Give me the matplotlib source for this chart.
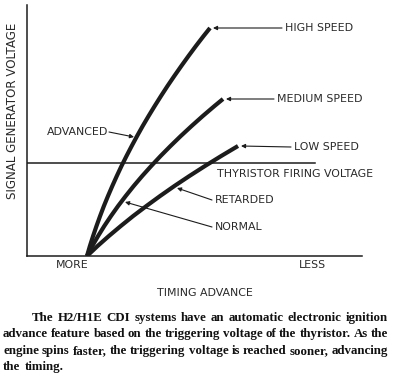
import matplotlib
matplotlib.use('Agg')
import matplotlib.pyplot as plt

# Curves (x = timing position, y = signal voltage, arbitrary units)
high_y = [0, 10, 20, 30, 40, 50, 60, 70, 80, 90, 100, 110, 120, 130, 140, 150,
          160, 170, 180, 190, 200, 210, 220, 228]
high_x = [60, 62.9, 66.1, 69.5, 73.1, 76.9, 81.0, 85.3, 89.8, 94.5, 99.5, 104.7,
          110.1, 115.7, 121.6, 127.7, 134.0, 140.5, 147.3, 154.3, 161.5, 168.9, 176.6, 183]
medium_y = [0, 10, 20, 30, 40, 50, 60, 70, 80, 90, 100, 110, 120, 130, 140, 150, 157]
medium_x = [60, 65.3, 71.1, 77.3, 84.0, 91.1, 98.7, 106.7, 115.2, 124.2, 133.6,
            143.5, 153.8, 164.6, 175.8, 187.5, 196]
low_y = [0, 10, 20, 30, 40, 50, 60, 70, 80, 90, 100, 110]
low_x = [60, 70.6, 81.9, 93.8, 106.2, 119.4, 133.1, 147.4, 162.4, 178.0, 194.2, 211.0]
firing_voltage = 93.5
firing_end = 288

tick_pos = [45, 285]
tick_labels = ['MORE', 'LESS']

caption_lines = [
    'The H2/H1E CDI systems have an automatic electronic ignition',
    'advance feature based on the triggering voltage of the thyristor. As the',
    'engine spins faster, the triggering voltage is reached sooner, advancing',
    'the timing.',
]

ink = '#1c1c1c'
label_font = dict(family='DejaVu Sans', fontsize=7.9, color='#2a2a2a')

fig = plt.figure(figsize=(4.0, 3.78), dpi=100)
ax = fig.add_axes([27 / 400, 122 / 378, 335 / 400, 251 / 378])
ax.set_xlim(0, 335)
ax.set_ylim(0, 251)
for side in ['top', 'right']:
    ax.spines[side].set_visible(False)
for side in ['left', 'bottom']:
    ax.spines[side].set_linewidth(1.1)
    ax.spines[side].set_color(ink)

for xs, ys in [(high_x, high_y), (medium_x, medium_y), (low_x, low_y)]:
    ax.plot(xs, ys, color=ink, lw=3.0, solid_capstyle='butt', solid_joinstyle='round')
ax.plot([0, firing_end], [firing_voltage, firing_voltage], color=ink, lw=1.1)

arrow = dict(arrowstyle='-|>', color=ink, lw=0.8, mutation_scale=6, shrinkA=0, shrinkB=0)

# Speed labels at the curve ends
ax.annotate('', xy=(high_x[-1] + 3, high_y[-1]), xytext=(255, 228), arrowprops=arrow)
ax.text(258, 228, 'HIGH SPEED', va='center', ha='left', **label_font)
ax.annotate('', xy=(medium_x[-1] + 3, medium_y[-1]), xytext=(247, 157), arrowprops=arrow)
ax.text(250, 157, 'MEDIUM SPEED', va='center', ha='left', **label_font)
ax.annotate('', xy=(low_x[-1] + 3, low_y[-1]), xytext=(264, 109), arrowprops=arrow)
ax.text(267, 109, 'LOW SPEED', va='center', ha='left', **label_font)

ax.text(190, 82, 'THYRISTOR FIRING VOLTAGE', va='center', ha='left', clip_on=False, **label_font)

ax.annotate('', xy=(107, 119), xytext=(82, 124), arrowprops=arrow)
ax.text(81, 124, 'ADVANCED', va='center', ha='right', **label_font)
ax.annotate('', xy=(150, 68), xytext=(185, 56), arrowprops=arrow)
ax.text(188, 56, 'RETARDED', va='center', ha='left', **label_font)
ax.annotate('', xy=(98, 54), xytext=(185, 29), arrowprops=arrow)
ax.text(188, 29, 'NORMAL', va='center', ha='left', **label_font)

ax.set_xticks(tick_pos)
ax.set_xticklabels(tick_labels, **label_font)
ax.tick_params(axis='x', length=0, pad=3)
ax.set_yticks([])
ax.set_xlabel('TIMING ADVANCE', **label_font)
ax.xaxis.set_label_coords(178 / 335, -32 / 251)
ax.set_ylabel('SIGNAL GENERATOR VOLTAGE', family='DejaVu Sans',
              fontsize=8.6, color='#2a2a2a')
ax.yaxis.set_label_coords(-8 / 335, 0.58)

# Caption: bold serif, justified by placing the words one by one
cap_font = dict(family='Liberation Serif', fontweight='bold', fontsize=9.3, color='#111111')
renderer = fig.canvas.get_renderer()
left_px, right_px = 3, 388
line_y = [318, 334, 351, 367]
for i, line in enumerate(caption_lines):
    words = line.split()
    start = left_px + (29 if i == 0 else 0)
    widths = []
    for w in words:
        t = fig.text(0, 0, w, **cap_font)
        widths.append(t.get_window_extent(renderer).width)
        t.remove()
    if i < len(caption_lines) - 1:
        gap = (right_px - start - sum(widths)) / (len(words) - 1)
    else:
        gap = 4.0
    x = start
    for w, wd in zip(words, widths):
        fig.text(x / 400, 1 - line_y[i] / 378, w, va='center', ha='left', **cap_font)
        x += wd + gap

fig.savefig('out.png', dpi=100)
